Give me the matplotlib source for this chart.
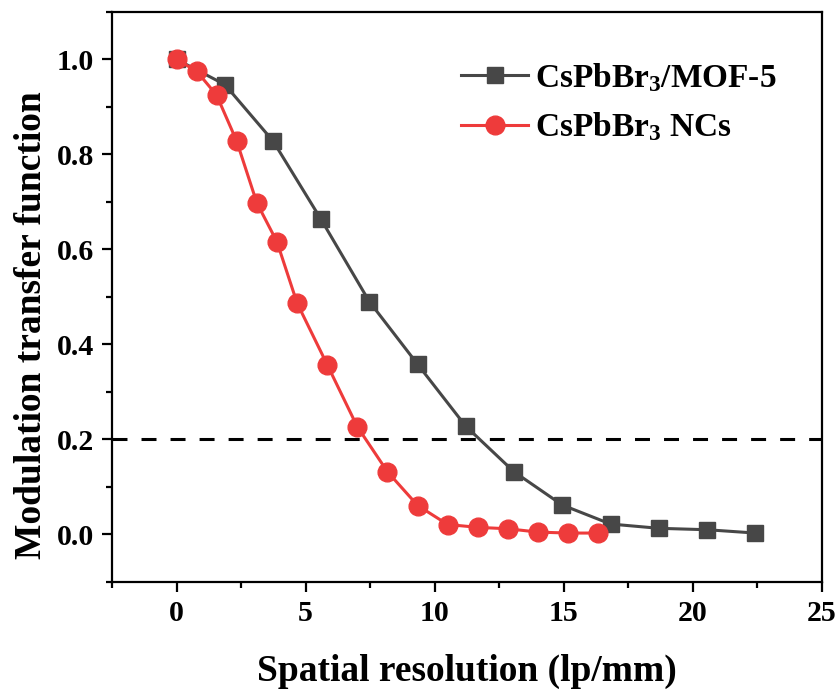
import matplotlib
matplotlib.use('Agg')
import matplotlib.pyplot as plt
from matplotlib.ticker import MultipleLocator, FormatStrFormatter

# 数据：CsPbBr3/MOF-5 与 CsPbBr3 NCs 的调制传递函数
mof_x = [0, 1.87, 3.74, 5.6, 7.47, 9.34, 11.2, 13.07, 14.94, 16.81, 18.68, 20.55, 22.42]
mof_y = [1.0, 0.947, 0.828, 0.663, 0.49, 0.358, 0.228, 0.132, 0.062, 0.022, 0.013, 0.010, 0.003]

ncs_x = [0, 0.78, 1.55, 2.33, 3.11, 3.89, 4.67, 5.84, 7.0, 8.17, 9.34, 10.5, 11.67, 12.84, 14.0, 15.17, 16.34]
ncs_y = [1.0, 0.975, 0.925, 0.828, 0.698, 0.616, 0.487, 0.357, 0.227, 0.132, 0.061, 0.021, 0.015, 0.012, 0.005, 0.003, 0.003]

labels = ['CsPbBr$_3$/MOF-5', 'CsPbBr$_3$ NCs']
threshold = 0.2

plt.rcParams['font.family'] = ['Liberation Serif', 'DejaVu Serif']
plt.rcParams['font.weight'] = 'bold'
plt.rcParams['mathtext.fontset'] = 'custom'
plt.rcParams['mathtext.rm'] = 'Liberation Serif:bold'
plt.rcParams['mathtext.it'] = 'Liberation Serif:bold'
plt.rcParams['mathtext.bf'] = 'Liberation Serif:bold'

fig = plt.figure(figsize=(8.4, 6.97), dpi=100)
ax = fig.add_axes([0.1333, 0.165, 0.8453, 0.818])

ax.plot(mof_x, mof_y, color='#474747', lw=2.2, marker='s', ms=12,
        label=labels[0], zorder=3)
ax.plot(ncs_x, ncs_y, color='#EE3B3B', lw=2.2, marker='o', ms=13.5,
        label=labels[1], zorder=4)

# 0.2 阈值虚线
ax.axhline(threshold, color='black', lw=2.2, ls=(0, (4.9, 4.6)), zorder=2)

ax.set_xlim(-2.5, 25)
ax.set_ylim(-0.1, 1.1)
ax.xaxis.set_major_locator(MultipleLocator(5))
ax.xaxis.set_minor_locator(MultipleLocator(2.5))
ax.yaxis.set_major_locator(MultipleLocator(0.2))
ax.yaxis.set_minor_locator(MultipleLocator(0.1))
ax.yaxis.set_major_formatter(FormatStrFormatter('%.1f'))

for s in ax.spines.values():
    s.set_linewidth(1.6)
ax.tick_params(axis='both', which='major', direction='out', length=7, width=1.6,
               labelsize=21.5, pad=6)
ax.tick_params(axis='both', which='minor', direction='out', length=4, width=1.6)

ax.set_xlabel('Spatial resolution (lp/mm)', fontsize=27, fontweight='bold', labelpad=19)
ax.set_ylabel('Modulation transfer function', fontsize=27, fontweight='bold')
ax.yaxis.set_label_coords(-0.088, 0.451)

ax.legend(loc='upper left', bbox_to_anchor=(0.45, 0.966), frameon=False,
          fontsize=24, handlelength=2.0, handletextpad=0.2, labelspacing=0.5)

plt.savefig('out.png', dpi=100)
